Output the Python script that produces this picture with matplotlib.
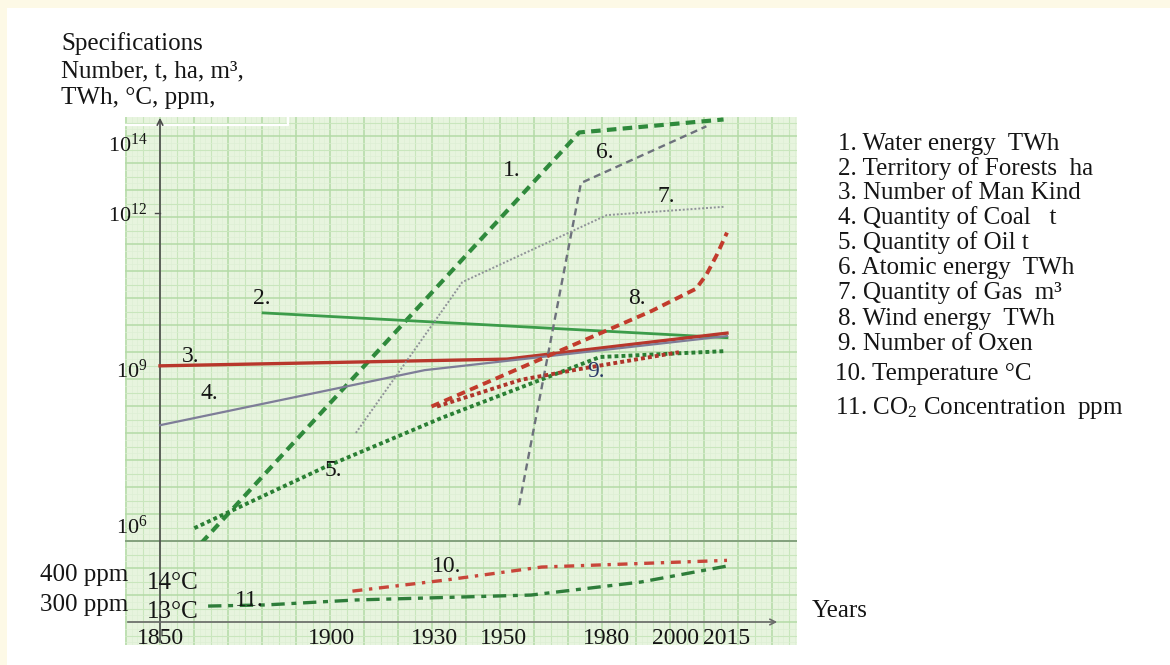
import numpy as np
import matplotlib
matplotlib.use("Agg")
import matplotlib.pyplot as plt
from matplotlib.patches import Rectangle

# ---------------- data ----------------
years_ticks = [1850, 1900, 1930, 1950, 1980, 2000, 2015]
year_labels = ["1850", "1900", "1930", "1950", "1980", "2000", "2015"]
log_ticks = [1e6, 1e9, 1e12, 1e14]
log_tick_labels = ["$10^{6}$", "$10^{9}$", "$10^{12}$", "$10^{14}$"]
ppm_ticks = [300, 400]
ppm_labels = ["300 ppm", "400 ppm"]
temp_marks = [14, 13]
temp_mark_labels = ["14°C", "13°C"]

water_years = [1862, 1972, 2014]
water_vals = [4.5e5, 2.0e14, 4.7e14]
forest_years = [1880, 2015]
forest_vals = [1.2e10, 4.0e9]
mankind_years = [1850, 1951, 2015]
mankind_vals = [1.15e9, 1.55e9, 4.9e9]
coal_years = [1850, 1927, 2015]
coal_vals = [8.3e7, 9.5e8, 4.3e9]
oil_years = [1860, 1898, 1932, 1978, 2014]
oil_vals = [8.7e5, 1.3e7, 1.15e8, 1.7e9, 2.2e9]
atomic_years = [1954.5, 1972.5, 2009]
atomic_vals = [2.4e6, 7.2e12, 3.0e14]
gas_years = [1907, 1938, 1980, 2014]
gas_vals = [5.9e7, 4.7e10, 9.1e11, 1.5e12]
wind_years = [1929, 1993, 2006, 2009, 2012, 2015]
wind_vals = [1.9e8, 1.3e10, 3.5e10, 6.5e10, 1.55e11, 4.2e11]
oxen_years = [1930.6, 1955, 1974, 2001]
oxen_vals = [1.9e8, 6.2e8, 1.05e9, 2.1e9]
temp_years = [1906, 1933, 1961, 2015]
temp_vals = [13.72, 14.10, 14.55, 14.78]
co2_years = [1864, 1881, 1907, 1958, 1990, 2015]
co2_vals = [286, 290, 307, 324, 369, 424]

legend_labels = [
    "1. Water energy  TWh",
    "2. Territory of Forests  ha",
    "3. Number of Man Kind",
    "4. Quantity of Coal   t",
    "5. Quantity of Oil t",
    "6. Atomic energy  TWh",
    "7. Quantity of Gas  m³",
    "8. Wind energy  TWh",
    "9. Number of Oxen",
    "10. Temperature °C",
    "11. CO$_2$ Concentration  ppm",
]
title_lines = ["Specifications", "Number, t, ha, m³,", "TWh, °C, ppm,"]

# ---------------- style ----------------
plt.rcParams["font.family"] = ["Liberation Serif", "DejaVu Serif"]
plt.rcParams["mathtext.fontset"] = "custom"
plt.rcParams["mathtext.rm"] = "Liberation Serif"
plt.rcParams["mathtext.it"] = "Liberation Serif:italic"
plt.rcParams["mathtext.bf"] = "Liberation Serif:bold"
FS = 18
TXT = "#151515"

W, H = 1170, 665
fig = plt.figure(figsize=(W / 100, H / 100), dpi=100, facecolor="#fdf9e6")
fig.add_artist(Rectangle((7 / W, 0), 1, 1 - 8 / H, transform=fig.transFigure,
                         fc="white", ec="none", zorder=-10))


def ax_rect(x0, y0, x1, y1):
    return [x0 / W, 1 - y1 / H, (x1 - x0) / W, (y1 - y0) / H]


def ftext(x, y, s, **kw):
    kw.setdefault("fontsize", FS)
    kw.setdefault("color", TXT)
    fig.text(x / W, 1 - y / H, s, **kw)


# graph-paper background (pixel coordinates)
PX0, PX1, PY0, PY1 = 125, 797, 117, 645
bg = fig.add_axes(ax_rect(PX0, PY0, PX1, PY1), zorder=0)
bg.set_xlim(PX0, PX1)
bg.set_ylim(PY1, PY0)
bg.axis("off")
bg.add_patch(Rectangle((PX0, PY0), PX1 - PX0, PY1 - PY0, fc="#e7f4de", ec="none"))
step = 34 / 6.0
for k in range(-40, 140):
    x = 160 + k * step
    if PX0 <= x <= PX1:
        if k % 6 == 0:
            bg.axvline(x, color="#b4daa6", lw=1.1)
        elif k % 3 == 0:
            bg.axvline(x, color="#c9e6bd", lw=0.8)
        else:
            bg.axvline(x, color="#dcefd4", lw=0.45)
for k in range(-140, 140):
    y = 541 + k * (27 / 4.0)
    if PY0 <= y <= PY1:
        if k % 4 == 0:
            bg.axhline(y, color="#b4daa6", lw=1.1)
        elif k % 2 == 0:
            bg.axhline(y, color="#c9e6bd", lw=0.8)
        else:
            bg.axhline(y, color="#dcefd4", lw=0.45)
# white frame piece at top-left, separator and axes arrows
bg.plot([PX0, 288, 288], [125, 125, PY0], color="white", lw=1.6, clip_on=False)
bg.axhline(541, color="#7f9c7a", lw=1.3)
bg.annotate("", xy=(160, 115), xytext=(160, 645), annotation_clip=False,
            arrowprops=dict(arrowstyle="->", color="#4a4a4a", lw=1.2))
bg.annotate("", xy=(780, 622), xytext=(125, 622), annotation_clip=False,
            arrowprops=dict(arrowstyle="->", color="#6a6a6a", lw=1.2))
bg.plot([155, 160], [213, 213], color="#4a4a4a", lw=1)

# x mapping: 1850 at px 160, 2015 at px 727
S = (727 - 160) / 165.0
XLIM = (1850 - (160 - PX0) / S, 1850 + (PX1 - 160) / S)

# upper (log with compressed top above 1e12)
K = 35 / 52.0


def fwd(v):
    L = np.log10(np.clip(v, 1e-300, None))
    return np.where(L <= 12, L, 12 + (L - 12) * K)


def inv(t):
    t = np.asarray(t, dtype=float)
    L = np.where(t <= 12, t, 12 + (t - 12) / K)
    return 10 ** L


top = fig.add_axes(ax_rect(PX0, PY0, PX1, 541), zorder=2)
top.patch.set_alpha(0)
top.set_yscale("function", functions=(fwd, inv))
t_bot = 6 - (541 - 525) / 52.0
t_top = 12 + (213 - 117) / 52.0
top.set_ylim(float(inv(t_bot)), float(inv(t_top)))
top.set_xlim(*XLIM)
for sp in top.spines.values():
    sp.set_visible(False)
top.set_xticks([])
top.set_yticks(log_ticks)
top.set_yticklabels(log_tick_labels)
top.yaxis.set_minor_locator(matplotlib.ticker.NullLocator())
top.tick_params(axis="y", length=0, pad=-16, labelsize=FS - 2, labelcolor=TXT)

top.plot(water_years, water_vals, color="#2f8a3c", lw=3, ls=(0, (2.3, 1.5)))
top.plot(forest_years, forest_vals, color="#3c9c4a", lw=2)
top.plot(mankind_years, mankind_vals, color="#b8372c", lw=2.4)
top.plot(coal_years, coal_vals, color="#7e7d98", lw=1.6)
top.plot(oil_years, oil_vals, color="#2a7f34", lw=2.8, ls=(0, (1, 0.8)))
top.plot(atomic_years, atomic_vals, color="#6d717c", lw=1.7, ls=(0, (3, 2)))
top.plot(gas_years, gas_vals, color="#8f9298", lw=1.4, ls=(0, (1, 1)))
top.plot(wind_years, wind_vals, color="#c23b2c", lw=2.8, ls=(0, (2.2, 1.4)))
top.plot(oxen_years, oxen_vals, color="#b0352b", lw=2.8, ls=(0, (1, 0.8)))

# lower panel: ppm (left labels) and temperature
low = fig.add_axes(ax_rect(PX0, 541, PX1, 622), zorder=2)
low.patch.set_alpha(0)
low.set_xlim(*XLIM)
low.set_ylim(400 - (622 - 573) * 100 / 29.0, 400 + (573 - 541) * 100 / 29.0)
for sp in low.spines.values():
    sp.set_visible(False)
low.set_xticks(years_ticks)
low.set_xticklabels(year_labels)
low.set_yticks(ppm_ticks)
low.set_yticklabels(ppm_labels)
low.tick_params(axis="x", length=0, pad=4, labelsize=FS - 1, labelcolor=TXT)
low.tick_params(axis="y", length=0, pad=-2, labelsize=FS, labelcolor=TXT)
low.plot(co2_years, co2_vals, color="#2e7d3a", lw=2.4, ls=(0, (4, 2, 1.5, 2)))

lowT = low.twinx()
lowT.set_zorder(3)
lowT.patch.set_alpha(0)
lowT.set_ylim(14 - (622 - 583) / 29.0, 14 + (583 - 541) / 29.0)
lowT.set_yticks([])
for sp in lowT.spines.values():
    sp.set_visible(False)
lowT.plot(temp_years, temp_vals, color="#c8463a", lw=2.4, ls=(0, (3, 2, 1, 2)))
for v, s in zip(temp_marks, temp_mark_labels):
    lowT.text(1850 - 13 / S, v, s, ha="left", va="center", fontsize=FS, color=TXT)

# in-plot line numbers
line_tags = [("1.", 512, 170), ("2.", 262, 298), ("3.", 191, 357), ("4.", 209, 393),
             ("5.", 333, 471), ("6.", 605, 153), ("7.", 666, 196), ("8.", 637, 299),
             ("9.", 596, 372), ("10.", 447, 566), ("11.", 249, 600)]
for s, x, y in line_tags:
    ftext(x, y, s, ha="center", va="center", fontsize=FS - 1,
          color="#2b3a67" if s == "9." else TXT, zorder=5)

# y title
for s, y in zip(title_lines, [44, 71, 98]):
    ftext(61, y, s, ha="left", va="center")

# legend text
leg_y = [144, 169, 193, 218, 243, 268, 293, 319, 344, 374, 408]
for i, (s, y) in enumerate(zip(legend_labels, leg_y)):
    ftext(835 if i >= 9 else 838, y, s, ha="left", va="center")

ftext(812, 611, "Years", ha="left", va="center")

fig.savefig("out.png", dpi=100, facecolor=fig.get_facecolor())
